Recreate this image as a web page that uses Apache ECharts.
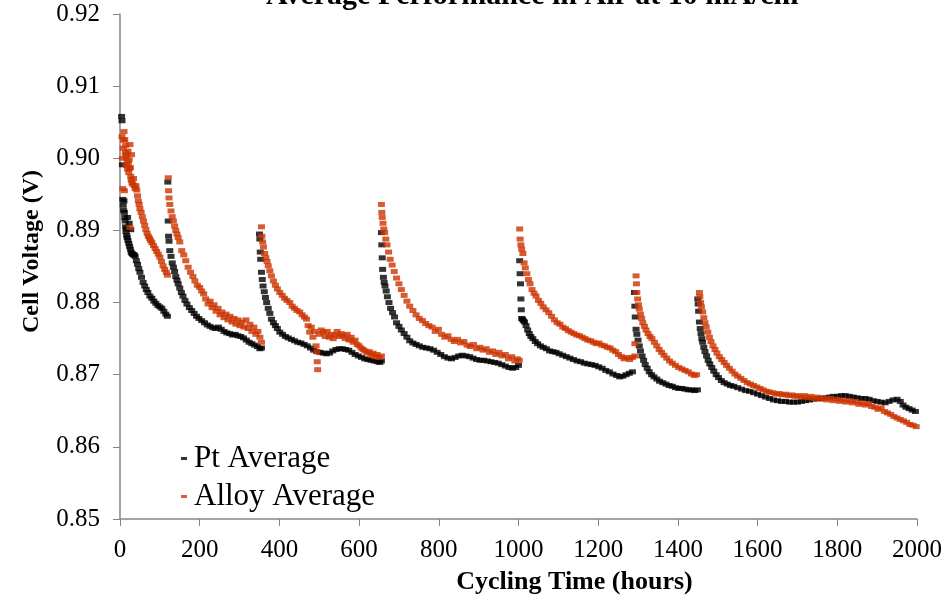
<!DOCTYPE html>
<html>
<head>
<meta charset="utf-8">
<script src="https://cdn.jsdelivr.net/npm/echarts@6/dist/echarts.min.js"></script>
<style>html,body{margin:0;padding:0;background:#fff;}#c{width:945px;height:600px;}</style>
</head>
<body>
<div id="c"></div>
<script>
// ---- Data (hours, cell voltage V) ----
const titleText = 'Average Performance in Air at 10 mA/cm²';
const seriesNames = ['Pt Average', 'Alloy Average'];
const yTicks = [0.85, 0.86, 0.87, 0.88, 0.89, 0.90, 0.91, 0.92];
const xTicks = [0, 200, 400, 600, 800, 1000, 1200, 1400, 1600, 1800, 2000];

const ptSeg1 = [[4,0.9058],[5,0.9052],[6,0.8991],[7,0.8943],[8,0.8935],[9,0.8928],[10,0.8941],[11,0.8925],[12,0.8918],[13,0.8913],[14,0.8905],[15,0.8898],[16,0.8902],[17,0.8893],[18,0.8890],[19,0.8918],[20,0.8886],[22,0.8882],[23,0.8910],[24,0.8878],[26,0.8874],[27,0.8901],[28,0.8870],[30,0.8868],[32,0.8867],[34,0.8866],[36,0.8866],[38,0.8864],[41,0.8858],[44,0.8853],[47,0.8847],[50,0.8842],[54,0.8835],[58,0.8828],[62,0.8823],[66,0.8818],[70,0.8814],[75,0.8809],[80,0.8806],[85,0.8802],[90,0.8799],[95,0.8796],[100,0.8794],[105,0.8792],[110,0.8788],[115,0.8784],[119,0.8781]];
const ptSeg2 = [[120,0.8967],[121,0.8913],[122,0.8892],[123,0.8885],[125,0.8872],[128,0.8864],[131,0.8855],[134,0.8849],[137,0.8843],[140,0.8836],[143,0.8831],[146,0.8826],[150,0.8820],[154,0.8814],[158,0.8809],[163,0.8803],[168,0.8798],[174,0.8793],[180,0.8789],[186,0.8785],[192,0.8781],[198,0.8778],[205,0.8775],[212,0.8772],[219,0.8769],[226,0.8767],[233,0.8765],[240,0.8764],[247,0.8766],[254,0.8763],[261,0.8760],[268,0.8758],[275,0.8757],[282,0.8755],[289,0.8756],[296,0.8754],[303,0.8753],[310,0.8751],[317,0.8748],[324,0.8745],[331,0.8743],[338,0.8741],[345,0.8739],[351,0.8736],[355,0.8737]];
const ptSeg3 = [[350,0.8895],[351,0.8888],[352,0.8870],[353,0.8860],[355,0.8842],[357,0.8832],[359,0.8823],[362,0.8815],[365,0.8807],[368,0.8800],[372,0.8792],[376,0.8785],[380,0.8777],[385,0.8772],[390,0.8768],[395,0.8764],[401,0.8759],[408,0.8756],[415,0.8753],[422,0.8751],[430,0.8749],[438,0.8747],[446,0.8745],[454,0.8744],[462,0.8742],[470,0.8740],[478,0.8737],[486,0.8734],[494,0.8732],[502,0.8731],[510,0.8730],[518,0.8729],[526,0.8730],[534,0.8733],[542,0.8735],[550,0.8736],[558,0.8736],[566,0.8735],[574,0.8734],[582,0.8731],[590,0.8728],[598,0.8726],[606,0.8724],[614,0.8722],[622,0.8721],[630,0.8720],[638,0.8719],[646,0.8718],[652,0.8717],[656,0.8719]];
const ptSeg4 = [[656,0.8897],[657,0.8880],[658,0.8862],[659,0.8846],[661,0.8835],[663,0.8828],[665,0.8823],[668,0.8816],[671,0.8808],[675,0.8800],[679,0.8792],[684,0.8786],[689,0.8780],[694,0.8772],[700,0.8767],[706,0.8762],[713,0.8757],[720,0.8752],[727,0.8747],[735,0.8744],[743,0.8742],[751,0.8740],[760,0.8738],[769,0.8737],[778,0.8736],[787,0.8734],[796,0.8731],[805,0.8728],[814,0.8725],[823,0.8723],[832,0.8722],[841,0.8724],[850,0.8726],[859,0.8727],[868,0.8726],[877,0.8725],[886,0.8723],[895,0.8721],[904,0.8720],[913,0.8720],[922,0.8719],[931,0.8718],[940,0.8717],[949,0.8716],[958,0.8714],[967,0.8712],[976,0.8710],[985,0.8709],[993,0.8710],[1000,0.8713]];
const ptSeg5 = [[1003,0.8858],[1004,0.8840],[1005,0.8826],[1006,0.8805],[1007,0.8790],[1008,0.8778],[1010,0.8777],[1012,0.8775],[1015,0.8773],[1019,0.8768],[1023,0.8762],[1027,0.8757],[1031,0.8753],[1036,0.8750],[1042,0.8746],[1048,0.8743],[1055,0.8740],[1062,0.8738],[1070,0.8736],[1078,0.8733],[1086,0.8732],[1094,0.8731],[1102,0.8729],[1111,0.8727],[1120,0.8725],[1129,0.8723],[1138,0.8721],[1147,0.8719],[1156,0.8718],[1165,0.8716],[1174,0.8715],[1183,0.8714],[1192,0.8713],[1201,0.8711],[1210,0.8709],[1219,0.8706],[1228,0.8704],[1237,0.8701],[1246,0.8699],[1254,0.8697],[1262,0.8698],[1270,0.8700],[1278,0.8702],[1286,0.8704]];
const ptSeg6 = [[1291,0.8814],[1292,0.8795],[1293,0.8780],[1295,0.8763],[1297,0.8756],[1300,0.8748],[1303,0.8740],[1306,0.8733],[1310,0.8726],[1314,0.8720],[1318,0.8714],[1323,0.8709],[1328,0.8704],[1334,0.8700],[1340,0.8697],[1347,0.8694],[1354,0.8691],[1362,0.8689],[1370,0.8687],[1378,0.8685],[1386,0.8684],[1394,0.8682],[1402,0.8681],[1410,0.8681],[1418,0.8680],[1426,0.8679],[1434,0.8679],[1442,0.8678],[1449,0.8679]];
const ptSeg7 = [[1450,0.8805],[1451,0.8798],[1452,0.8788],[1454,0.8773],[1456,0.8764],[1458,0.8757],[1460,0.8750],[1462,0.8745],[1465,0.8738],[1468,0.8732],[1472,0.8726],[1476,0.8720],[1480,0.8715],[1485,0.8710],[1490,0.8705],[1496,0.8700],[1502,0.8696],[1509,0.8692],[1516,0.8689],[1524,0.8687],[1532,0.8685],[1540,0.8684],[1550,0.8682],[1560,0.8680],[1570,0.8678],[1580,0.8677],[1590,0.8675],[1600,0.8673],[1610,0.8671],[1620,0.8669],[1630,0.8667],[1640,0.8665],[1650,0.8664],[1660,0.8663],[1670,0.8663],[1680,0.8662],[1690,0.8662],[1700,0.8662],[1710,0.8663],[1720,0.8664],[1730,0.8665],[1740,0.8666],[1750,0.8667],[1760,0.8667],[1770,0.8668],[1780,0.8669],[1790,0.8670],[1800,0.8670],[1810,0.8671],[1820,0.8671],[1830,0.8670],[1840,0.8669],[1850,0.8668],[1860,0.8667],[1870,0.8667],[1880,0.8666],[1890,0.8664],[1900,0.8663],[1910,0.8662],[1920,0.8661],[1930,0.8663],[1940,0.8665],[1950,0.8666],[1958,0.8663],[1965,0.8658],[1972,0.8655],[1980,0.8653],[1988,0.8651],[1996,0.8649],[2003,0.8647]];

const alloySeg1 = [[5,0.9030],[6,0.9000],[7,0.8958],[8,0.9014],[9,0.9025],[10,0.9037],[11,0.8955],[12,0.9026],[13,0.9008],[14,0.9018],[15,0.9002],[16,0.8990],[17,0.9005],[18,0.8996],[19,0.8985],[20,0.9010],[21,0.8992],[22,0.8980],[23,0.8998],[24,0.8986],[25,0.9019],[25,0.8904],[26,0.8987],[27,0.8975],[28,0.8970],[29,0.9005],[30,0.8966],[32,0.8964],[34,0.8972],[36,0.8962],[38,0.8958],[40,0.8962],[42,0.8956],[44,0.8948],[46,0.8941],[48,0.8936],[50,0.8930],[53,0.8925],[56,0.8919],[59,0.8913],[62,0.8907],[65,0.8901],[68,0.8896],[71,0.8892],[74,0.8889],[77,0.8886],[80,0.8883],[84,0.8879],[88,0.8875],[92,0.8871],[96,0.8867],[100,0.8863],[104,0.8857],[108,0.8851],[112,0.8846],[116,0.8842],[119,0.8838]];
const alloySeg2 = [[121,0.8973],[122,0.8955],[123,0.8945],[125,0.8936],[128,0.8927],[131,0.8919],[134,0.8913],[137,0.8906],[140,0.8900],[143,0.8895],[146,0.8890],[150,0.8884],[155,0.8872],[160,0.8866],[165,0.8858],[171,0.8849],[177,0.8842],[183,0.8836],[188,0.8830],[194,0.8824],[200,0.8821],[205,0.8816],[210,0.8812],[215,0.8805],[221,0.8798],[226,0.8802],[231,0.8793],[236,0.8797],[241,0.8788],[246,0.8792],[251,0.8783],[256,0.8787],[261,0.8779],[266,0.8784],[271,0.8776],[276,0.8781],[281,0.8773],[286,0.8778],[291,0.8770],[296,0.8776],[301,0.8768],[306,0.8773],[311,0.8766],[316,0.8776],[321,0.8764],[326,0.8770],[331,0.8760],[336,0.8766],[341,0.8756],[346,0.8760],[351,0.8752],[355,0.8745]];
const alloySeg3 = [[355,0.8905],[356,0.8892],[358,0.8884],[360,0.8877],[363,0.8868],[366,0.8862],[369,0.8857],[372,0.8851],[376,0.8844],[380,0.8837],[385,0.8830],[390,0.8824],[395,0.8819],[401,0.8814],[407,0.8810],[413,0.8806],[419,0.8803],[426,0.8800],[432,0.8795],[438,0.8792],[444,0.8789],[451,0.8787],[457,0.8783],[463,0.8780],[468,0.8777],[472,0.8768],[476,0.8759],[480,0.8766],[484,0.8752],[488,0.8760],[492,0.8740],[494,0.8732],[495,0.8718],[496,0.8707],[500,0.8756],[505,0.8762],[510,0.8759],[515,0.8753],[520,0.8760],[525,0.8752],[530,0.8756],[535,0.8750],[540,0.8755],[545,0.8760],[550,0.8753],[555,0.8757],[560,0.8754],[565,0.8750],[570,0.8756],[575,0.8748],[580,0.8752],[585,0.8745],[590,0.8748],[595,0.8742],[600,0.8740],[605,0.8737],[610,0.8735],[615,0.8733],[620,0.8730],[625,0.8732],[630,0.8727],[635,0.8730],[640,0.8725],[645,0.8728],[650,0.8724],[656,0.8726]];
const alloySeg4 = [[656,0.8936],[657,0.8925],[658,0.8918],[660,0.8910],[662,0.8902],[664,0.8897],[667,0.8888],[670,0.8880],[674,0.8870],[678,0.8860],[683,0.8852],[688,0.8843],[694,0.8834],[700,0.8826],[706,0.8818],[713,0.8810],[720,0.8802],[727,0.8795],[735,0.8789],[743,0.8783],[751,0.8778],[759,0.8775],[767,0.8771],[775,0.8768],[783,0.8766],[791,0.8760],[799,0.8763],[807,0.8756],[815,0.8752],[823,0.8754],[831,0.8749],[839,0.8746],[847,0.8749],[855,0.8744],[863,0.8746],[871,0.8741],[879,0.8739],[887,0.8742],[895,0.8736],[903,0.8738],[911,0.8734],[919,0.8736],[927,0.8731],[935,0.8733],[943,0.8728],[951,0.8731],[959,0.8726],[967,0.8728],[975,0.8722],[983,0.8725],[991,0.8719],[997,0.8722],[1002,0.8720]];
const alloySeg5 = [[1003,0.8902],[1004,0.8888],[1006,0.8880],[1008,0.8874],[1011,0.8868],[1014,0.8855],[1017,0.8848],[1021,0.8840],[1025,0.8832],[1029,0.8826],[1034,0.8818],[1039,0.8813],[1044,0.8809],[1050,0.8803],[1056,0.8799],[1062,0.8794],[1069,0.8790],[1076,0.8786],[1083,0.8781],[1090,0.8776],[1097,0.8772],[1104,0.8770],[1111,0.8766],[1118,0.8764],[1125,0.8761],[1132,0.8759],[1139,0.8757],[1146,0.8755],[1153,0.8754],[1160,0.8752],[1167,0.8750],[1174,0.8748],[1181,0.8747],[1188,0.8745],[1195,0.8743],[1202,0.8744],[1209,0.8741],[1216,0.8740],[1223,0.8738],[1230,0.8737],[1237,0.8734],[1244,0.8732],[1251,0.8728],[1258,0.8725],[1265,0.8722],[1272,0.8724],[1279,0.8721],[1286,0.8724],[1292,0.8726]];
const alloySeg6 = [[1292,0.8743],[1295,0.8837],[1296,0.8826],[1297,0.8814],[1299,0.8805],[1301,0.8797],[1303,0.8791],[1306,0.8784],[1309,0.8778],[1312,0.8772],[1316,0.8767],[1320,0.8762],[1325,0.8757],[1330,0.8753],[1335,0.8750],[1341,0.8745],[1347,0.8740],[1353,0.8735],[1359,0.8731],[1365,0.8727],[1372,0.8723],[1379,0.8719],[1386,0.8716],[1394,0.8713],[1402,0.8710],[1410,0.8708],[1418,0.8706],[1426,0.8704],[1434,0.8701],[1441,0.8699],[1447,0.8700]];
const alloySeg7 = [[1454,0.8814],[1455,0.8808],[1457,0.8800],[1459,0.8794],[1462,0.8787],[1465,0.8779],[1468,0.8772],[1471,0.8766],[1475,0.8759],[1479,0.8752],[1483,0.8746],[1488,0.8740],[1493,0.8735],[1498,0.8730],[1504,0.8725],[1510,0.8721],[1516,0.8717],[1522,0.8713],[1529,0.8709],[1536,0.8705],[1543,0.8701],[1550,0.8698],[1558,0.8695],[1566,0.8692],[1574,0.8689],[1582,0.8687],[1590,0.8685],[1598,0.8683],[1606,0.8681],[1614,0.8679],[1622,0.8677],[1630,0.8676],[1638,0.8675],[1646,0.8673],[1654,0.8674],[1662,0.8672],[1670,0.8673],[1678,0.8671],[1686,0.8672],[1694,0.8670],[1702,0.8671],[1710,0.8669],[1718,0.8671],[1726,0.8668],[1734,0.8670],[1742,0.8667],[1750,0.8669],[1758,0.8666],[1766,0.8668],[1774,0.8665],[1782,0.8667],[1790,0.8664],[1798,0.8666],[1806,0.8663],[1814,0.8665],[1822,0.8662],[1830,0.8664],[1838,0.8661],[1846,0.8663],[1854,0.8659],[1862,0.8661],[1870,0.8658],[1878,0.8660],[1886,0.8656],[1894,0.8655],[1902,0.8652],[1910,0.8654],[1918,0.8649],[1926,0.8647],[1934,0.8645],[1942,0.8642],[1950,0.8640],[1958,0.8638],[1966,0.8636],[1974,0.8634],[1982,0.8631],[1990,0.8630],[1998,0.8628],[2004,0.8631]];

const ptData = [].concat(ptSeg1, ptSeg2, ptSeg3, ptSeg4, ptSeg5, ptSeg6, ptSeg7);
const alloyData = [].concat(alloySeg1, alloySeg2, alloySeg3, alloySeg4, alloySeg5, alloySeg6, alloySeg7);

const FONT = 'Liberation Serif';
const AXIS_GRAY = '#868686';
const chart = echarts.init(document.getElementById('c'), null, {renderer: 'canvas'});
chart.setOption({
  animation: false,
  backgroundColor: '#ffffff',
  title: {
    text: titleText,
    left: 261, top: -24,
    textStyle: {fontFamily: FONT, fontWeight: 'bold', fontSize: 30, color: '#000'}
  },
  legend: {
    orient: 'vertical', left: 176, top: 438,
    icon: 'rect', itemWidth: 6, itemHeight: 3, itemGap: 7,
    data: seriesNames,
    textStyle: {fontFamily: FONT, fontSize: 31, color: '#000', lineHeight: 30, padding: [0, 0, 0, 2]}
  },
  grid: {left: 120, right: 27, top: 14, bottom: 79, containLabel: false},
  xAxis: {
    type: 'value', min: xTicks[0], max: xTicks[xTicks.length - 1], interval: 200,
    name: 'Cycling Time (hours)', nameLocation: 'middle', nameGap: 50,
    nameTextStyle: {fontFamily: FONT, fontWeight: 'bold', fontSize: 26, color: '#000', padding: [0, 0, 0, 112]},
    axisLine: {show: true, onZero: false, lineStyle: {color: AXIS_GRAY, width: 1.5}},
    axisTick: {show: true, length: 7, lineStyle: {color: AXIS_GRAY, width: 1}},
    axisLabel: {fontFamily: FONT, fontSize: 25, color: '#000', margin: 19, formatter: v => String(Math.round(v))},
    splitLine: {show: false}
  },
  yAxis: {
    type: 'value', min: yTicks[0], max: yTicks[yTicks.length - 1], interval: 0.01,
    name: 'Cell Voltage (V)', nameLocation: 'middle', nameGap: 76, nameRotate: 90,
    nameTextStyle: {fontFamily: FONT, fontWeight: 'bold', fontSize: 24, color: '#000', padding: [0, 0, 0, 30]},
    axisLine: {show: true, onZero: false, lineStyle: {color: AXIS_GRAY, width: 1.5}},
    axisTick: {show: true, length: 7, lineStyle: {color: AXIS_GRAY, width: 1}},
    axisLabel: {fontFamily: FONT, fontSize: 25, color: '#000', margin: 20, formatter: v => v.toFixed(2)},
    splitLine: {show: false}
  },
  series: [
    {name: seriesNames[0], type: 'scatter', data: ptData, symbol: 'rect', symbolSize: [7, 5],
     itemStyle: {color: '#000000'}},
    {name: seriesNames[1], type: 'scatter', data: alloyData, symbol: 'rect', symbolSize: [7, 5],
     itemStyle: {color: '#CC3300'}}
  ]
});
</script>
</body>
</html>
